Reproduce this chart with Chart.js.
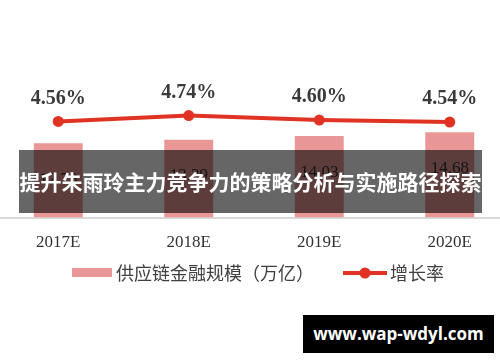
<!DOCTYPE html>
<html lang="zh">
<head>
    <meta charset="UTF-8">
    <title>供应链金融规模</title>
    <script src="https://cdn.jsdelivr.net/npm/chart.js"></script>
    <style>
        html, body {
            margin: 0;
            padding: 0;
            width: 500px;
            height: 362px;
            overflow: hidden;
            background: #fff;
        }
        .chart-box {
            position: absolute;
            left: -7px;
            top: 0;
            width: 522px;
            height: 362px;
        }
        .banner {
            position: absolute;
            left: 19px;
            top: 150px;
            width: 463px;
            height: 63px;
            background: rgba(0, 0, 0, 0.6);
            color: #fff;
            font-family: "Noto Sans CJK SC", sans-serif;
            font-weight: bold;
            font-size: 21px;
            line-height: 63px;
            text-align: center;
            white-space: nowrap;
        }
        .mark {
            position: absolute;
            left: 303px;
            top: 315px;
            width: 191px;
            height: 38px;
            background: #000;
            color: #fff;
            font-family: "Open Sans", sans-serif;
            font-weight: bold;
            font-size: 17px;
            line-height: 38px;
            text-align: center;
        }
    </style>
</head>
<body>
    <div class="chart-box">
        <canvas id="chart" width="522" height="362"></canvas>
    </div>
    <div class="banner" id="banner"></div>
    <div class="mark" id="mark"></div>

    <script>
        const years = ['2017E', '2018E', '2019E', '2020E'];
        const scaleValues = [12.78, 13.39, 14.03, 14.68];
        const growthRates = [4.56, 4.74, 4.60, 4.54];
        const scaleName = '供应链金融规模（万亿）';
        const rateName = '增长率';
        const bannerText = '提升朱雨玲主力竞争力的策略分析与实施路径探索';
        const markText = 'www.wap-wdyl.com';

        const barColor = '#e99696';
        const lineColor = '#e03323';

        document.getElementById('banner').textContent = bannerText;
        document.getElementById('mark').textContent = markText;

        // value labels above points and inside bars
        const valueLabels = {
            id: 'valueLabels',
            afterDatasetsDraw(chart) {
                const ctx = chart.ctx;
                ctx.save();
                ctx.textAlign = 'center';
                ctx.textBaseline = 'middle';

                const barMeta = chart.getDatasetMeta(1);
                ctx.font = '17px "Liberation Serif"';
                ctx.fillStyle = '#333';
                barMeta.data.forEach((bar, i) => {
                    ctx.fillText(scaleValues[i].toFixed(2), bar.x, bar.y + 36);
                });

                const lineMeta = chart.getDatasetMeta(0);
                ctx.font = 'bold 20px "Liberation Serif"';
                ctx.fillStyle = '#3a3a3a';
                lineMeta.data.forEach((pt, i) => {
                    ctx.fillText(growthRates[i].toFixed(2) + '%', pt.x, pt.y - 23);
                });
                ctx.restore();
            }
        };

        // legend: pink box + line with dot
        const legendRow = {
            id: 'legendRow',
            afterDraw(chart) {
                const ctx = chart.ctx;
                const y = 273;
                const off = 7; // canvas is shifted left by 7px
                ctx.save();
                ctx.fillStyle = barColor;
                ctx.fillRect(72 + off, y - 5, 40, 9);

                ctx.font = '18px "Noto Sans CJK SC"';
                ctx.fillStyle = '#404040';
                ctx.textAlign = 'left';
                ctx.textBaseline = 'middle';
                ctx.fillText(scaleName, 116 + off, y);

                ctx.strokeStyle = lineColor;
                ctx.lineWidth = 4;
                ctx.beginPath();
                ctx.moveTo(343 + off, y);
                ctx.lineTo(387 + off, y);
                ctx.stroke();
                ctx.fillStyle = lineColor;
                ctx.beginPath();
                ctx.arc(365 + off, y, 5.5, 0, Math.PI * 2);
                ctx.fill();

                ctx.fillStyle = '#404040';
                ctx.fillText(rateName, 390 + off, y);
                ctx.restore();
            }
        };

        const ctx = document.getElementById('chart').getContext('2d');
        new Chart(ctx, {
            type: 'bar',
            data: {
                labels: years,
                datasets: [{
                    type: 'line',
                    label: rateName,
                    data: growthRates,
                    yAxisID: 'y1',
                    borderColor: lineColor,
                    backgroundColor: lineColor,
                    borderWidth: 4,
                    pointRadius: 5.5,
                    pointBackgroundColor: lineColor,
                    pointBorderWidth: 0,
                    tension: 0,
                    order: 0
                }, {
                    type: 'bar',
                    label: scaleName,
                    data: scaleValues,
                    yAxisID: 'y',
                    backgroundColor: barColor,
                    barPercentage: 0.75,
                    categoryPercentage: 0.5,
                    order: 1
                }]
            },
            options: {
                responsive: false,
                animation: false,
                layout: { autoPadding: false, padding: { top: 20, bottom: 102, left: 0, right: 0 } },
                plugins: {
                    legend: { display: false },
                    tooltip: { enabled: false }
                },
                scales: {
                    x: {
                        offset: true,
                        grid: { display: false },
                        border: { display: true, color: '#d9d9d9', width: 2 },
                        ticks: {
                            color: '#333',
                            padding: 7,
                            font: { family: 'Liberation Serif', size: 17 }
                        }
                    },
                    y: { display: false, min: 0, max: 34 },
                    y1: { display: false, min: 1.63, max: 7.65 }
                }
            },
            plugins: [valueLabels, legendRow]
        });
    </script>
</body>
</html>
